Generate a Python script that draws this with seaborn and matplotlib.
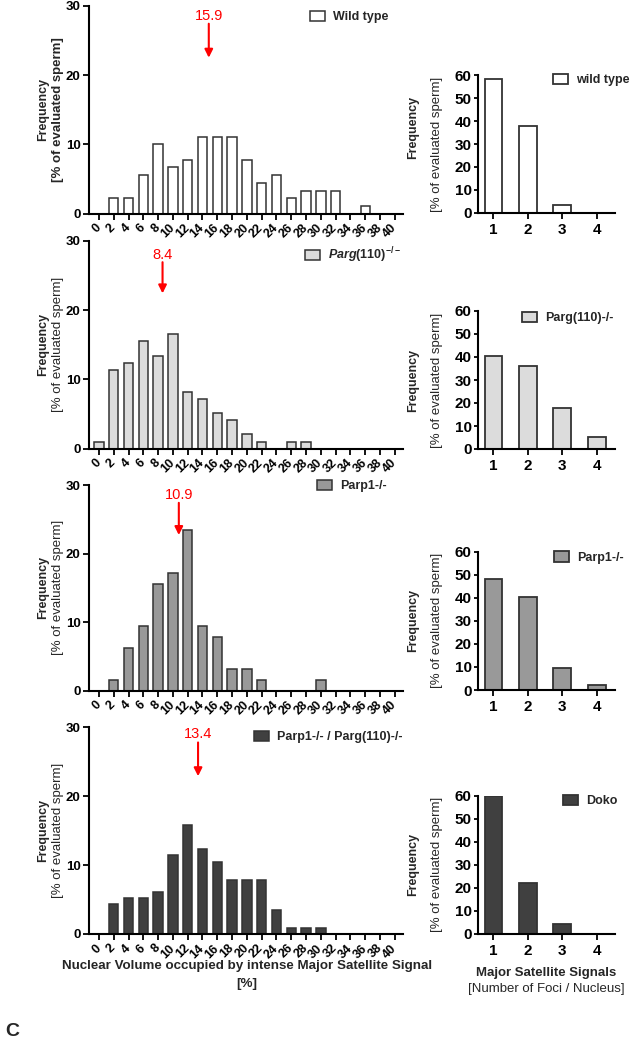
import matplotlib
matplotlib.use("Agg")
import matplotlib.pyplot as plt
from matplotlib.patches import Patch
import seaborn as sns

# --- Data ---
vol_bins = ["0", "2", "4", "6", "8", "10", "12", "14", "16", "18", "20",
            "22", "24", "26", "28", "30", "32", "34", "36", "38", "40"]
wt_vol = [0, 2.2, 2.2, 5.6, 10.0, 6.7, 7.8, 11.1, 11.1, 11.1, 7.8,
          4.4, 5.6, 2.2, 3.3, 3.3, 3.3, 0, 1.1, 0, 0]
parg_vol = [1.0, 11.3, 12.4, 15.5, 13.4, 16.5, 8.2, 7.2, 5.2, 4.1, 2.1,
            1.0, 0, 1.0, 1.0, 0, 0, 0, 0, 0, 0]
parp_vol = [0, 1.6, 6.3, 9.4, 15.6, 17.2, 23.4, 9.4, 7.8, 3.1, 3.1,
            1.6, 0, 0, 0, 1.6, 0, 0, 0, 0, 0]
doko_vol = [0, 4.4, 5.2, 5.2, 6.1, 11.4, 15.8, 12.3, 10.5, 7.9, 7.9,
            7.9, 3.5, 0.9, 0.9, 0.9, 0, 0, 0, 0, 0]

foci_bins = ["1", "2", "3", "4"]
wt_foci = [58.5, 37.8, 3.3, 0]
parg_foci = [40.4, 36.2, 18.0, 5.2]
parp_foci = [48.1, 40.5, 9.7, 2.3]
doko_foci = [60.0, 22.2, 4.1, 0]

mean_labels = ["15.9", "8.4", "10.9", "13.4"]
arrow_at = [14.85, 8.6, 10.8, 13.4]   # where the arrow sits on the % axis

left_names = ["Wild type", r"$\it{Parg}$(110)$^{-/-}$", "Parp1-/-",
              "Parp1-/- / Parg(110)-/-"]
right_names = ["wild type", "Parg(110)-/-", "Parp1-/-", "Doko"]
colors = ["#ffffff", "#dcdcdc", "#999999", "#404040"]

# --- style ---
sns.set_style("ticks")
plt.rcParams["font.family"] = ["Liberation Sans", "DejaVu Sans"]
plt.rcParams["mathtext.fontset"] = "custom"
plt.rcParams["mathtext.it"] = "Liberation Sans:italic:bold"
plt.rcParams["mathtext.rm"] = "Liberation Sans:bold"
plt.rcParams["mathtext.bf"] = "Liberation Sans:bold"

EDGE = "#333333"
W, H = 632, 1050
fig = plt.figure(figsize=(W / 100, H / 100), dpi=100)

# pixel boxes (top-of-axes, bottom-of-axes)
left_rows = [(5.7, 213.7), (240.7, 448.7), (485.0, 690.7), (727.3, 934.0)]
right_rows = [(75.3, 212.7), (311.0, 449.0), (551.7, 690.0), (795.7, 933.7)]
LX0, LX1 = 89, 403
RX0, RX1 = 478, 615

left_leg = [(0.704, 0.946), (0.688, 0.931), (0.726, 0.995), (0.525, 0.953)]
right_leg = [(0.547, 0.966), (0.321, 0.949), (0.555, 0.957), (0.62, 0.962)]
label_y = [28.5, 27.9, 28.5, 29.0]
tail_y = [27.4, 26.9, 27.4, 27.8]
tip_y = [22.5, 22.4, 22.7, 22.9]

vol_sets = [wt_vol, parg_vol, parp_vol, doko_vol]
foci_sets = [wt_foci, parg_foci, parp_foci, doko_foci]


def box(x0, x1, top, bot):
    return [x0 / W, 1 - bot / H, (x1 - x0) / W, (bot - top) / H]


def style_axes(ax):
    sns.despine(ax=ax)
    for s in ("left", "bottom"):
        ax.spines[s].set_linewidth(1.5)
        ax.spines[s].set_color("black")
    ax.tick_params(direction="out", length=4, width=1.3, colors="black")
    ax.set_xlabel("")
    ax.set_ylabel("")


legend_kw = dict(loc="center left", frameon=False, borderpad=0, borderaxespad=0,
                 handlelength=1.2, handleheight=0.9, handletextpad=0.65,
                 prop=dict(weight="bold", size=9))

for i in range(4):
    # ---- histogram of nuclear volume ----
    ax = fig.add_axes(box(LX0, LX1, *left_rows[i]))
    sns.barplot(x=vol_bins, y=vol_sets[i], order=vol_bins, color=colors[i],
                saturation=1, edgecolor=EDGE, linewidth=1.1, width=0.63,
                errorbar=None, ax=ax)
    style_axes(ax)
    ax.set_xlim(-0.67, 20.55)
    ax.set_ylim(0, 30)
    ax.set_yticks([0, 10, 20, 30])
    ax.set_yticklabels(["0", "10", "20", "30"], fontsize=9.5, fontweight="bold")
    ax.tick_params(axis="y", pad=2)
    ax.set_xticks(range(len(vol_bins)))
    ax.set_xticklabels(vol_bins, rotation=45, ha="right", va="center",
                       rotation_mode="anchor", fontsize=9, fontweight="bold")
    ax.tick_params(axis="x", pad=5)

    ax.text(-0.146, 0.5, "Frequency", transform=ax.transAxes, rotation=90,
            ha="center", va="center", fontsize=9, fontweight="bold")
    ax.text(-0.098, 0.5, "[% of evaluated sperm]", transform=ax.transAxes,
            rotation=90, ha="center", va="center", fontsize=9.5,
            fontweight="bold" if i == 0 else "normal")

    pos = arrow_at[i] / 2
    ax.annotate("", xy=(pos, tip_y[i]), xytext=(pos, tail_y[i]),
                arrowprops=dict(arrowstyle="-|>", color="red", lw=1.5,
                                mutation_scale=12, shrinkA=0, shrinkB=0))
    ax.text(pos, label_y[i], mean_labels[i], color="red", ha="center",
            va="center", fontsize=10.5)

    h = [Patch(facecolor=colors[i], edgecolor=EDGE, linewidth=1.1)]
    ax.legend(h, [left_names[i]], bbox_to_anchor=left_leg[i], **legend_kw)

    # ---- number of foci ----
    ax2 = fig.add_axes(box(RX0, RX1, *right_rows[i]))
    sns.barplot(x=foci_bins, y=foci_sets[i], order=foci_bins, color=colors[i],
                saturation=1, edgecolor=EDGE, linewidth=1.3, width=0.52,
                errorbar=None, ax=ax2)
    style_axes(ax2)
    ax2.set_xlim(-0.45, 3.53)
    ax2.set_ylim(0, 60)
    ax2.set_yticks(range(0, 61, 10))
    ax2.set_yticklabels([str(v) for v in range(0, 61, 10)], fontsize=11,
                        fontweight="bold")
    ax2.set_xticks(range(4))
    ax2.set_xticklabels(foci_bins, fontsize=11, fontweight="bold")
    ax2.tick_params(axis="y", length=3, pad=1.5)

    ax2.text(-0.47, 0.62 if i == 0 else 0.5, "Frequency", transform=ax2.transAxes,
             rotation=90, ha="center", va="center", fontsize=9, fontweight="bold")
    ax2.text(-0.30, 0.5, "[% of evaluated sperm]", transform=ax2.transAxes,
             rotation=90, ha="center", va="center", fontsize=9.5)

    h2 = [Patch(facecolor=colors[i], edgecolor=EDGE, linewidth=1.3)]
    ax2.legend(h2, [right_names[i]], bbox_to_anchor=right_leg[i], **legend_kw)

# axis titles under the bottom row
fig.text(247 / W, 1 - 966 / H,
         "Nuclear Volume occupied by intense Major Satellite Signal",
         ha="center", va="center", fontsize=9.6, fontweight="bold")
fig.text(247 / W, 1 - 984 / H, "[%]", ha="center", va="center",
         fontsize=9.6, fontweight="bold")
fig.text((RX0 + RX1) / 2 / W, 1 - 973 / H, "Major Satellite Signals",
         ha="center", va="center", fontsize=9.5, fontweight="bold")
fig.text((RX0 + RX1) / 2 / W, 1 - 989 / H, "[Number of Foci / Nucleus]",
         ha="center", va="center", fontsize=9.5)
fig.text(12 / W, 1 - 1032 / H, "C", ha="center", va="center", fontsize=14,
         fontweight="bold")

fig.savefig("out.png", dpi=100)
